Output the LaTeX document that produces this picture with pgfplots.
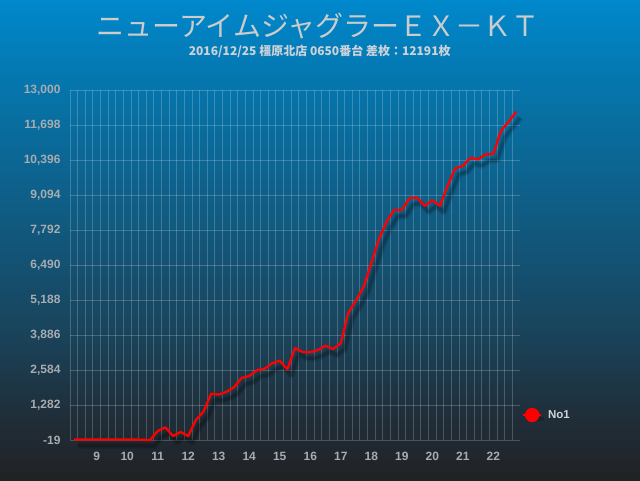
\documentclass[border=0pt]{standalone}
\usepackage{fontspec}
\setmainfont{Liberation Sans}
\newfontfamily\cjk{Noto Sans CJK JP}
\usepackage{pgfplots}
\usepackage{pgfplotstable}
\pgfplotsset{compat=1.18}

\definecolor{c1}{RGB}{0,136,204}
\definecolor{c2}{RGB}{8,110,160}
\definecolor{c3}{RGB}{18,86,122}
\definecolor{c4}{RGB}{25,68,92}
\definecolor{c5}{RGB}{32,45,56}
\definecolor{c6}{RGB}{33,34,36}
\definecolor{titlec}{RGB}{204,204,204}
\definecolor{subc}{RGB}{205,210,216}
\definecolor{tickc}{RGB}{168,172,176}
\definecolor{legc}{RGB}{210,210,210}
\pgfdeclareverticalshading{bgshade}{100bp}{color(0bp)=(c6); color(25bp)=(c6); color(31.25bp)=(c5); color(40.625bp)=(c4); color(50bp)=(c3); color(62.5bp)=(c2); color(75bp)=(c1); color(100bp)=(c1)}

\pgfplotstableread{
x y
8.25 0
8.5 0
8.75 0
9.0 0
9.25 0
9.5 0
9.75 0
10.0 0
10.25 0
10.5 -10
10.75 -19
11.0 316
11.25 453
11.5 130
11.75 279
12.0 130
12.25 725
12.5 1034
12.75 1700
13.0 1670
13.25 1770
13.5 1941
13.75 2290
14.0 2362
14.25 2574
14.5 2633
14.75 2834
15.0 2931
15.25 2611
15.5 3403
15.75 3254
16.0 3243
16.25 3329
16.5 3489
16.75 3366
17.0 3578
17.25 4716
17.5 5170
17.75 5683
18.0 6554
18.25 7447
18.5 8101
18.75 8536
19.0 8536
19.25 8971
19.5 8995
19.75 8690
20.0 8900
20.25 8690
20.5 9429
20.75 10087
21.0 10173
21.25 10482
21.5 10422
21.75 10608
22.0 10619
22.25 11474
22.5 11821
22.75 12191
}\data

\begin{document}
\begin{tikzpicture}[x=1pt,y=1pt]
\useasboundingbox (0,0) rectangle (640,480);
\shade[shading=bgshade] (0,0) rectangle (640,480);
\node[text=titlec, font=\cjk\fontsize{28}{30}\selectfont, inner sep=0pt] at (318,453.5) {ニューアイムジャグラーＥＸ－ＫＴ};
\node[text=subc, font=\cjk\bfseries\fontsize{12}{14}\selectfont, inner sep=0pt] at (319.7,429) {2016/12/25 橿原北店 0650番台 差枚：12191枚};
\begin{axis}[
  at={(70pt,40pt)}, anchor=south west,
  scale only axis, width=450pt, height=350pt,
  xmin=8.125, xmax=22.875, ymin=-19, ymax=13000,
  clip=false,
  scaled y ticks=false, scaled x ticks=false,
  axis line style={draw=none},
  xtick={9,10,11,12,13,14,15,16,17,18,19,20,21,22},
  xticklabels={9,10,11,12,13,14,15,16,17,18,19,20,21,22},
  minor xtick={8.125,8.375,...,22.625},
  ytick={-19,1282,2584,3886,5188,6490,7792,9094,10396,11698,13000},
  yticklabels={-19,{1,282},{2,584},{3,886},{5,188},{6,490},{7,792},{9,094},{10,396},{11,698},{13,000}},
  major tick length=0pt, minor tick length=0pt,
  xmajorgrids=false, xminorgrids=true, ymajorgrids=true,
  major grid style={white, opacity=0.2, line width=0.9pt},
  minor grid style={white, opacity=0.2, line width=0.9pt},
  ticklabel style={font=\bfseries\fontsize{12}{14}\selectfont, text=tickc},
  xticklabel style={yshift=-9pt},
  yticklabel style={xshift=-6pt},
  legend style={at={(1.004,0.0714)}, anchor=west, draw=none, fill=none, text=legc, font=\bfseries\fontsize{11.5}{13}\selectfont, inner sep=0pt},
  legend image code/.code={
    \draw[black, opacity=0.2, line width=4pt] (3pt,-4pt) -- (21pt,-4pt);
    \draw[red, line width=2.3pt] (0pt,0pt) -- (18pt,0pt);
    \fill[red] (9pt,0pt) circle (6pt);
  },
]
\addplot[forget plot, black, opacity=0.1, line width=7pt, line join=round, xshift=4pt, yshift=-6pt] table[x=x,y=y] {\data};
\addplot[forget plot, black, opacity=0.2, line width=3.5pt, line join=round, xshift=4pt, yshift=-6pt] table[x=x,y=y] {\data};
\addplot[red, line width=2.3pt, line join=round] table[x=x,y=y] {\data};
\addlegendentry{No1}
\end{axis}
\end{tikzpicture}
\end{document}
